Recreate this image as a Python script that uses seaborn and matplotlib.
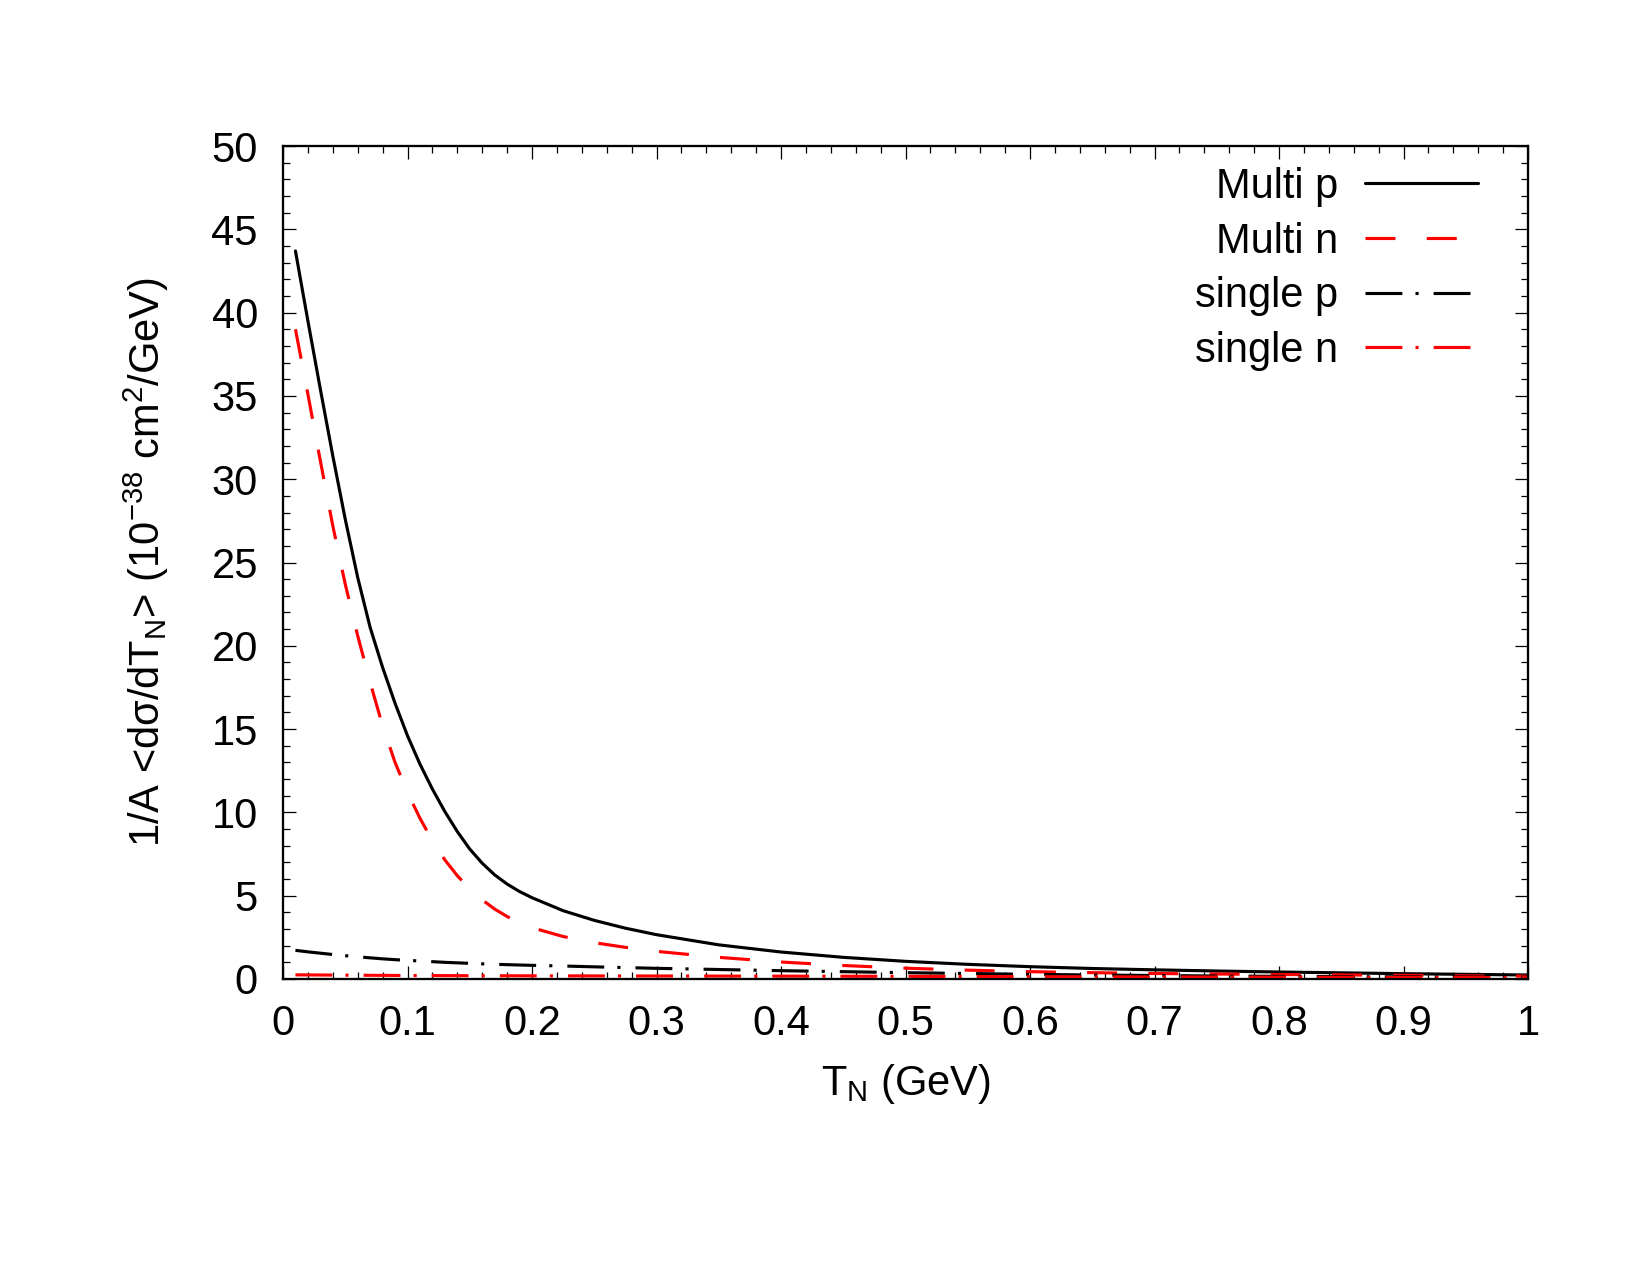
import numpy as np
import pandas as pd
import matplotlib
matplotlib.use("Agg")
import matplotlib.pyplot as plt
import seaborn as sns
from matplotlib.ticker import MultipleLocator, FixedLocator

# ---- data ----
T = [0.01, 0.02, 0.03, 0.04, 0.05, 0.06, 0.07, 0.08, 0.09, 0.10,
     0.11, 0.12, 0.13, 0.14, 0.15, 0.16, 0.17, 0.18, 0.19, 0.20,
     0.225, 0.25, 0.275, 0.30, 0.35, 0.40, 0.45, 0.50, 0.55, 0.60,
     0.65, 0.70, 0.75, 0.80, 0.85, 0.90, 0.95, 1.00]
multi_p = [43.7, 39.5, 35.4, 31.4, 27.6, 24.1, 21.1, 18.7, 16.55, 14.6,
           12.9, 11.4, 10.05, 8.85, 7.8, 6.95, 6.25, 5.7, 5.25, 4.88,
           4.1, 3.52, 3.05, 2.66, 2.05, 1.62, 1.3, 1.06, 0.88, 0.74,
           0.63, 0.55, 0.48, 0.42, 0.37, 0.32, 0.28, 0.24]
multi_n = [39.0, 35.1, 31.1, 27.2, 23.7, 20.6, 17.8, 15.2, 13.0, 11.2,
           9.65, 8.3, 7.15, 6.2, 5.4, 4.75, 4.2, 3.75, 3.38, 3.08,
           2.55, 2.18, 1.9, 1.66, 1.3, 1.02, 0.81, 0.65, 0.53, 0.44,
           0.38, 0.33, 0.30, 0.27, 0.245, 0.22, 0.19, 0.17]
single_p = [1.72, 1.63, 1.55, 1.47, 1.40, 1.33, 1.27, 1.21, 1.16, 1.12,
            1.08, 1.04, 1.0, 0.97, 0.94, 0.91, 0.885, 0.86, 0.84, 0.82,
            0.78, 0.73, 0.685, 0.64, 0.57, 0.50, 0.44, 0.38, 0.33, 0.28,
            0.24, 0.21, 0.18, 0.16, 0.14, 0.13, 0.12, 0.11]
single_n = [0.25, 0.245, 0.24, 0.235, 0.23, 0.226, 0.222, 0.218, 0.214, 0.21,
            0.207, 0.205, 0.202, 0.20, 0.198, 0.196, 0.194, 0.193, 0.191, 0.19,
            0.187, 0.185, 0.182, 0.18, 0.175, 0.17, 0.165, 0.16, 0.15, 0.14,
            0.13, 0.12, 0.115, 0.11, 0.10, 0.09, 0.085, 0.08]

series_labels = ["Multi p", "Multi n", "single p", "single n"]
x_ticks = [0, 0.1, 0.2, 0.3, 0.4, 0.5, 0.6, 0.7, 0.8, 0.9, 1.0]
x_ticklabels = ["0", "0.1", "0.2", "0.3", "0.4", "0.5", "0.6", "0.7", "0.8", "0.9", "1"]
y_ticks = [0, 5, 10, 15, 20, 25, 30, 35, 40, 45, 50]
y_ticklabels = [str(v) for v in y_ticks]

df = pd.DataFrame({"T": T, "Multi p": multi_p, "Multi n": multi_n,
                   "single p": single_p, "single n": single_n})

sns.set_theme(style="white")
plt.rcParams["font.family"] = ["Liberation Sans", "DejaVu Sans"]
plt.rcParams["mathtext.fontset"] = "custom"
plt.rcParams["mathtext.rm"] = "Liberation Sans"
plt.rcParams["mathtext.it"] = "Liberation Sans"
plt.rcParams["mathtext.default"] = "regular"
plt.rcParams["text.color"] = "black"
plt.rcParams["axes.labelcolor"] = "black"
plt.rcParams["xtick.color"] = "black"
plt.rcParams["ytick.color"] = "black"

FS = 20

fig = plt.figure(figsize=(11, 8.5), dpi=150)
ax = fig.add_axes([283/1650, 1-979/1275, (1528-283)/1650, (979-146)/1275])

lw = 1.5
styles = {
    "Multi p": dict(color="black", linestyle="-"),
    "Multi n": dict(color="#ff0000", linestyle=(0, (9.6, 10.0))),
    "single p": dict(color="black", linestyle=(0, (11.8, 4.2, 1.0, 4.8))),
    "single n": dict(color="#ff0000", linestyle=(0, (11.8, 4.2, 1.0, 4.8))),
}
handles = []
for name in series_labels:
    sns.lineplot(data=df, x="T", y=name, ax=ax, linewidth=lw, label=name,
                 estimator=None, legend=False, **styles[name])
    handles.append(ax.lines[-1])

ax.set_xlim(0, 1)
ax.set_ylim(0, 50)
ax.xaxis.set_major_locator(FixedLocator(x_ticks))
ax.set_xticklabels(x_ticklabels)
ax.yaxis.set_major_locator(FixedLocator(y_ticks))
ax.set_yticklabels(y_ticklabels)
ax.xaxis.set_minor_locator(MultipleLocator(0.02))
ax.yaxis.set_minor_locator(MultipleLocator(1))
ax.tick_params(which="both", direction="in", top=True, right=True,
               bottom=True, left=True, colors="black", labelcolor="black",
               labelsize=FS, pad=12)
ax.tick_params(which="major", length=6.2, width=0.6)
ax.tick_params(which="minor", length=3.2, width=0.6)
for s in ax.spines.values():
    s.set_linewidth(1.1)
    s.set_color("black")
    s.set_visible(True)

ax.set_xlabel("T$_N$ (GeV)", fontsize=FS, color="black")
ax.set_ylabel("1/A <dσ/dT$_N$> (10$^{-38}$ cm$^2$/GeV)", fontsize=FS, color="black")
ax.xaxis.set_label_coords(0.5, -0.100)
ax.yaxis.set_label_coords(-0.090, 0.5)

leg = ax.legend(handles=handles, labels=series_labels, loc="upper right",
                bbox_to_anchor=(1 - 50/1245, 1 - 21/833), frameon=False,
                markerfirst=False, handlelength=2.7, handletextpad=0.65,
                labelspacing=0.35, fontsize=FS, borderpad=0, borderaxespad=0)
for t in leg.get_texts():
    t.set_color("black")

fig.savefig("out.png", dpi=150, facecolor="white")
